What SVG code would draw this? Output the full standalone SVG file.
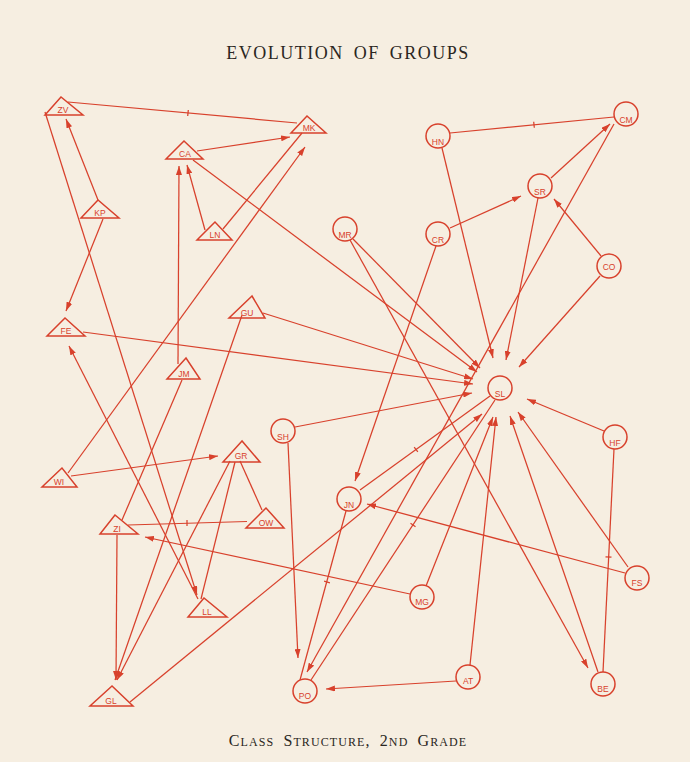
<svg xmlns="http://www.w3.org/2000/svg" width="690" height="762" viewBox="0 0 690 762">
<style>
.e{stroke:#d8412c;stroke-width:1.25;fill:none}
.a{marker-end:url(#ah)}
.n{fill:none;stroke:#d8412c;stroke-width:1.5}
.t{font-family:'Liberation Sans',Arial,sans-serif;font-size:8.5px;fill:#d8412c;text-anchor:middle}
.title{font-family:'Liberation Serif','Times New Roman',serif;fill:#2a2622;text-anchor:middle}
</style>
<defs>
<marker id="ah" viewBox="0 0 9 6" refX="9" refY="3" markerWidth="9" markerHeight="6" markerUnits="userSpaceOnUse" orient="auto">
<path d="M0,0 L9,3 L0,6 z" fill="#d8412c"/>
</marker>
</defs>
<rect width="690" height="762" fill="#f6eee1"/>
<text class="title" x="348" y="59" font-size="18" letter-spacing="1.5" word-spacing="4">EVOLUTION OF GROUPS</text>
<text class="title" x="348" y="746" letter-spacing="1.1" word-spacing="4"><tspan font-size="16">C</tspan><tspan font-size="12">LASS</tspan> <tspan font-size="16">S</tspan><tspan font-size="12">TRUCTURE</tspan><tspan font-size="16">,</tspan> <tspan font-size="16">2</tspan><tspan font-size="12">ND</tspan> <tspan font-size="16">G</tspan><tspan font-size="12">RADE</tspan></text>

<g id="connectors">
<!-- mutual -->
<line class="e" x1="68" y1="102" x2="297" y2="123"/><line class="e" x1="188.3" y1="110" x2="187.7" y2="116"/>
<line class="e" x1="450" y1="133" x2="614" y2="117"/><line class="e" x1="533.7" y1="121.8" x2="534.3" y2="127.8"/>
<line class="e" x1="490" y1="396" x2="360" y2="490"/><line class="e" x1="414.2" y1="447.1" x2="417.8" y2="451.9"/>
<line class="e" x1="495" y1="400" x2="311" y2="680"/><line class="e" x1="410.5" y1="523.3" x2="415.5" y2="526.7"/>
<line class="e" x1="346" y1="511" x2="300" y2="680"/><line class="e" x1="324.1" y1="581.2" x2="329.9" y2="582.8"/>
<line class="e" x1="128" y1="525" x2="247" y2="521.5"/><line class="e" x1="187" y1="520" x2="187" y2="526"/>
<line class="e" x1="614" y1="449" x2="603" y2="672"/><line class="e" x1="605.5" y1="556.8" x2="611.5" y2="557.2"/>
<!-- plain -->
<line class="e" x1="223" y1="229" x2="302" y2="133"/>
<line class="e" x1="182" y1="380" x2="122" y2="520"/>
<line class="e" x1="235" y1="462" x2="201" y2="599"/>
<line class="e" x1="240" y1="461" x2="262" y2="510"/>
<!-- directed -->
<line class="e a" x1="197" y1="151" x2="290" y2="137"/>
<line class="e a" x1="98" y1="200" x2="66" y2="119"/>
<line class="e a" x1="103" y1="219" x2="66" y2="311"/>
<line class="e a" x1="45" y1="112" x2="197" y2="595"/>
<line class="e a" x1="198" y1="599" x2="69" y2="346"/>
<line class="e a" x1="205" y1="230" x2="187" y2="165"/>
<line class="e a" x1="178" y1="364" x2="179" y2="166"/>
<line class="e a" x1="68" y1="473" x2="305" y2="147"/>
<line class="e a" x1="71" y1="476" x2="218" y2="456"/>
<line class="e a" x1="242" y1="315" x2="115" y2="680"/>
<line class="e a" x1="230" y1="461" x2="117" y2="680"/>
<line class="e a" x1="117" y1="535" x2="116" y2="680"/>
<line class="e a" x1="130" y1="702" x2="482" y2="414"/>
<line class="e a" x1="410" y1="594" x2="145" y2="537"/>
<line class="e a" x1="193" y1="160" x2="477" y2="372"/>
<line class="e a" x1="263" y1="313" x2="473" y2="379"/>
<line class="e a" x1="83" y1="332" x2="473" y2="384"/>
<line class="e a" x1="295" y1="427" x2="472" y2="393"/>
<line class="e a" x1="288" y1="443" x2="298" y2="658"/>
<line class="e a" x1="442" y1="148" x2="493" y2="358"/>
<line class="e a" x1="538" y1="198" x2="506" y2="360"/>
<line class="e a" x1="551" y1="178" x2="610" y2="124"/>
<line class="e a" x1="450" y1="228" x2="521" y2="196"/>
<line class="e a" x1="601" y1="256" x2="554" y2="199"/>
<line class="e a" x1="600" y1="276" x2="519" y2="367"/>
<line class="e a" x1="614" y1="124" x2="307" y2="672"/>
<line class="e a" x1="353" y1="239" x2="480" y2="368"/>
<line class="e a" x1="350" y1="240" x2="588" y2="668"/>
<line class="e a" x1="436" y1="246" x2="355" y2="481"/>
<line class="e a" x1="604" y1="431" x2="527" y2="399"/>
<line class="e a" x1="628" y1="567" x2="518" y2="412"/>
<line class="e a" x1="625" y1="573" x2="367" y2="504"/>
<line class="e a" x1="598" y1="672" x2="510" y2="416"/>
<line class="e a" x1="470" y1="665" x2="496" y2="417"/>
<line class="e a" x1="426" y1="586" x2="493" y2="417"/>
<line class="e a" x1="456" y1="681" x2="326" y2="689"/>
</g>

<g id="n-ZV"><polygon class="n" points="61,97 45,115 83,115"/><text class="t" x="63" y="113">ZV</text></g>
<g id="n-MK"><polygon class="n" points="307,116 291,133 326,133"/><text class="t" x="309" y="131">MK</text></g>
<g id="n-CA"><polygon class="n" points="184,141 166,159 203,159"/><text class="t" x="185" y="157">CA</text></g>
<g id="n-KP"><polygon class="n" points="98,200 81,218 119,218"/><text class="t" x="100" y="216">KP</text></g>
<g id="n-LN"><polygon class="n" points="215,222 197,240 232,240"/><text class="t" x="215" y="238">LN</text></g>
<g id="n-FE"><polygon class="n" points="65,318 47,336 85,336"/><text class="t" x="66" y="334">FE</text></g>
<g id="n-GU"><polygon class="n" points="252,296 229,318 265,318"/><text class="t" x="247" y="316">GU</text></g>
<g id="n-JM"><polygon class="n" points="186,358 167,379 200,379"/><text class="t" x="184" y="377">JM</text></g>
<g id="n-GR"><polygon class="n" points="242,441 223,462 260,462"/><text class="t" x="241" y="459">GR</text></g>
<g id="n-WI"><polygon class="n" points="62,468 42,487 77,487"/><text class="t" x="59" y="485">WI</text></g>
<g id="n-ZI"><polygon class="n" points="115,515 100,534 138,534"/><text class="t" x="117" y="532">ZI</text></g>
<g id="n-OW"><polygon class="n" points="266,508 246,528 284,528"/><text class="t" x="266" y="526">OW</text></g>
<g id="n-LL"><polygon class="n" points="204,598 188,617 227,617"/><text class="t" x="207" y="615">LL</text></g>
<g id="n-GL"><polygon class="n" points="112,686 90,706 133,706"/><text class="t" x="111" y="704">GL</text></g>

<g id="n-HN"><circle class="n" cx="438" cy="136" r="12"/><text class="t" x="438" y="144.5">HN</text></g>
<g id="n-CM"><circle class="n" cx="626" cy="114" r="12"/><text class="t" x="626" y="122.5">CM</text></g>
<g id="n-SR"><circle class="n" cx="540" cy="186" r="12"/><text class="t" x="540" y="194.5">SR</text></g>
<g id="n-MR"><circle class="n" cx="345" cy="229" r="12"/><text class="t" x="345" y="237.5">MR</text></g>
<g id="n-CR"><circle class="n" cx="438" cy="234" r="12"/><text class="t" x="438" y="242.5">CR</text></g>
<g id="n-CO"><circle class="n" cx="609" cy="266" r="12"/><text class="t" x="609" y="270">CO</text></g>
<g id="n-SL"><circle class="n" cx="500" cy="388" r="12"/><text class="t" x="500" y="396.5">SL</text></g>
<g id="n-SH"><circle class="n" cx="283" cy="431" r="12"/><text class="t" x="283" y="439.5">SH</text></g>
<g id="n-HF"><circle class="n" cx="615" cy="437" r="12"/><text class="t" x="615" y="445.5">HF</text></g>
<g id="n-JN"><circle class="n" cx="349" cy="499" r="12"/><text class="t" x="349" y="507.5">JN</text></g>
<g id="n-MG"><circle class="n" cx="422" cy="597" r="12"/><text class="t" x="422" y="605">MG</text></g>
<g id="n-PO"><circle class="n" cx="305" cy="691" r="12"/><text class="t" x="305" y="699">PO</text></g>
<g id="n-AT"><circle class="n" cx="468" cy="677" r="12"/><text class="t" x="468" y="684">AT</text></g>
<g id="n-BE"><circle class="n" cx="603" cy="684" r="12"/><text class="t" x="603" y="692">BE</text></g>
<g id="n-FS"><circle class="n" cx="637" cy="578" r="12"/><text class="t" x="637" y="586">FS</text></g>
</svg>
